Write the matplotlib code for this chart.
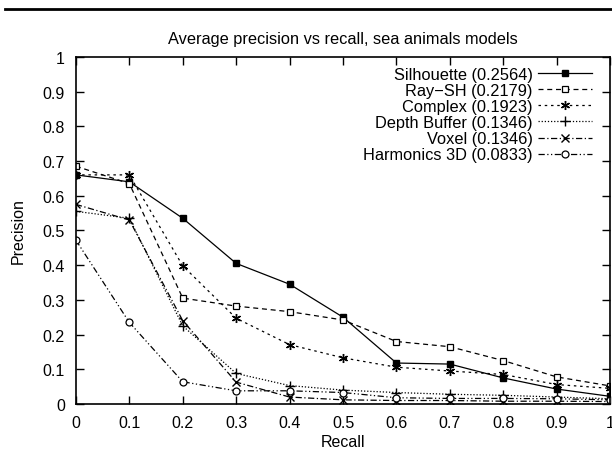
import matplotlib
matplotlib.use('Agg')
import matplotlib.pyplot as plt
from matplotlib.lines import Line2D

plt.rcParams['font.family'] = ['Liberation Sans', 'DejaVu Sans']

recall = [0, 0.1, 0.2, 0.3, 0.4, 0.5, 0.6, 0.7, 0.8, 0.9, 1.0]

silhouette = [0.66, 0.64, 0.535, 0.405, 0.345, 0.25, 0.118, 0.115, 0.075, 0.043, 0.022]
ray_sh = [0.685, 0.635, 0.305, 0.282, 0.266, 0.242, 0.18, 0.165, 0.125, 0.078, 0.052]
complex_ = [0.66, 0.66, 0.398, 0.247, 0.171, 0.133, 0.106, 0.095, 0.085, 0.056, 0.045]
depth_buffer = [0.555, 0.535, 0.225, 0.088, 0.053, 0.04, 0.033, 0.028, 0.025, 0.02, 0.015]
voxel = [0.575, 0.53, 0.24, 0.063, 0.02, 0.012, 0.01, 0.01, 0.008, 0.008, 0.007]
harmonics = [0.472, 0.235, 0.064, 0.038, 0.038, 0.033, 0.018, 0.016, 0.016, 0.015, 0.012]

labels = ['Silhouette (0.2564)', 'Ray\u2212SH (0.2179)', 'Complex (0.1923)',
          'Depth Buffer (0.1346)', 'Voxel (0.1346)', 'Harmonics 3D (0.0833)']
ticklabels = ['0', '0.1', '0.2', '0.3', '0.4', '0.5', '0.6', '0.7', '0.8', '0.9', '1']

fig = plt.figure(figsize=(6.12, 4.52), dpi=100)
ax = fig.add_axes([0.124, 0.104, 0.873, 0.768])

ax.plot(recall, silhouette, color='black', lw=0.9, ls='-', marker='s', ms=5,
        mfc='black', mec='black', label=labels[0])
ax.plot(recall, ray_sh, color='black', lw=0.9, ls=(0, (4, 3)), marker='s', ms=5,
        mfc='white', mec='black', mew=0.9, label=labels[1])
ax.plot(recall, complex_, color='black', lw=0.9, ls=(0, (2, 3)), marker=(6, 2, 0), ms=6.5,
        mec='black', mew=1.0, label=labels[2])
ax.plot(recall, depth_buffer, color='black', lw=0.9, ls=(0, (1, 1.5)), marker='+', ms=6.5,
        mec='black', mew=1.0, label=labels[3])
ax.plot(recall, voxel, color='black', lw=0.9, ls=(0, (5, 2, 1, 2)), marker='x', ms=5.5,
        mec='black', mew=1.0, label=labels[4])
ax.plot(recall, harmonics, color='black', lw=0.9, ls=(0, (5, 2, 1, 2, 1, 2)), marker='o', ms=5,
        mfc='white', mec='black', mew=0.9, label=labels[5])

ax.set_xlim(0, 1)
ax.set_ylim(0, 1)
ax.set_xticks(recall)
ax.set_xticklabels(ticklabels)
ax.set_yticks(recall)
ax.set_yticklabels(ticklabels)
ax.tick_params(direction='in', top=True, right=True, length=6, width=1, labelsize=11.5)
ax.tick_params(axis='x', pad=8)
ax.tick_params(axis='y', pad=8)
for sp in ax.spines.values():
    sp.set_linewidth(1.2)

ax.set_title('Average precision vs recall, sea animals models', fontsize=11.8, pad=10)
ax.set_xlabel('Recall', fontsize=11.5, labelpad=3)
ax.set_ylabel('Precision', fontsize=11.5, labelpad=12)

leg = ax.legend(loc='upper right', bbox_to_anchor=(0.985, 1.0), frameon=False,
                markerfirst=False, fontsize=11.8, handlelength=3.3, handletextpad=0.35,
                labelspacing=0.07, borderaxespad=0.2)
for t in leg.get_texts():
    t.set_ha('right')

fig.add_artist(Line2D([0.008, 1.0], [0.978, 0.978], color='black', lw=2))

fig.savefig('out.png', dpi=100)
